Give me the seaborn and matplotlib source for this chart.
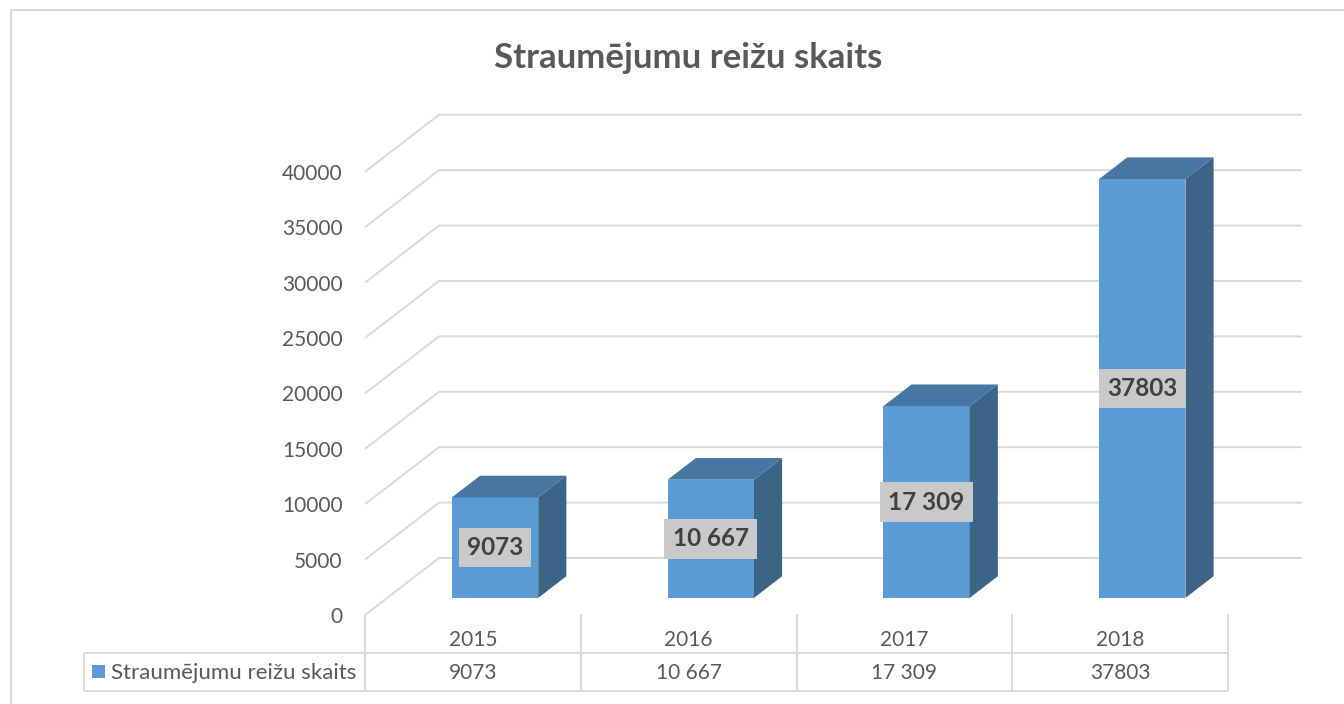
import matplotlib
matplotlib.use("Agg")
import matplotlib.pyplot as plt
import matplotlib.transforms as mtransforms
from matplotlib.lines import Line2D
from matplotlib.patches import Polygon, Rectangle
import pandas as pd
import seaborn as sns

# Data
years = ["2015", "2016", "2017", "2018"]
counts = [9073, 10667, 17309, 37803]
count_labels = ["9073", "10 667", "17 309", "37803"]
y_ticks = [0, 5000, 10000, 15000, 20000, 25000, 30000, 35000, 40000]
series_name = "Straumējumu reižu skaits"
chart_title = "Straumējumu reižu skaits"

# Style
sns.set_theme(style="white")
plt.rcParams["font.family"] = ["Lato", "DejaVu Sans"]

FRONT = "#5B9BD5"
TOP = "#4676A1"
SIDE = "#3B6487"
GRID = "#D9D9D9"
TEXT = "#595959"
LABEL_BG = "#C9C9C9"
LABEL_TXT = "#404040"

# Layout in image pixels (origin top-left)
W, H = 1344, 704
LEFT, FLOOR, PLOT_TOP = 365, 615, 100
CAT_W = 215.75
UNIT = 55.4 / 5000          # pixels per value unit
DEPTH = (74, 57)            # oblique depth of the floor/gridlines
BAR_F0, BAR_F1 = 0.30, 0.68  # bar front/back as fraction of depth
ROW1, ROW2, TABLE_BOTTOM = 640, 673, 691
ROW_SPLIT = 653

fig = plt.figure(figsize=(W / 100, H / 100), dpi=100)
pix = mtransforms.Affine2D().scale(1 / W, -1 / H).translate(0, 1) + fig.transFigure

ax = fig.add_axes([LEFT / W, (H - FLOOR) / H,
                   (4 * CAT_W + DEPTH[0]) / W, (FLOOR - PLOT_TOP) / H])
ax.set_facecolor("none")

ddx = DEPTH[0] / CAT_W
ddy = DEPTH[1] / UNIT

df = pd.DataFrame({"year": years, "count": counts})
sns.barplot(data=df, x="year", y="count", color=FRONT, saturation=1,
            width=0.4, linewidth=0, errorbar=None, ax=ax, zorder=3)

ax.set_xlim(-0.5, 3.5 + ddx)
ax.set_ylim(0, (FLOOR - PLOT_TOP) / UNIT)

# back gridlines with oblique floor edges
for v in y_ticks:
    ax.plot([-0.5, -0.5 + ddx, 3.5 + ddx], [v, v + ddy, v + ddy],
            color=GRID, lw=1.4, zorder=0, clip_on=False, solid_capstyle="butt")

# 3D faces on the seaborn bars
bx = (BAR_F1 - BAR_F0) * ddx
by = (BAR_F1 - BAR_F0) * ddy
for p, lab in zip(ax.patches, count_labels):
    p.set_x(p.get_x() + BAR_F0 * ddx)
    p.set_y(BAR_F0 * ddy)
    x0, y0, w, h = p.get_x(), p.get_y(), p.get_width(), p.get_height()
    ax.add_patch(Polygon([(x0, y0 + h), (x0 + w, y0 + h), (x0 + w + bx, y0 + h + by),
                          (x0 + bx, y0 + h + by)], closed=True, fc=TOP, lw=0, zorder=3))
    ax.add_patch(Polygon([(x0 + w, y0), (x0 + w + bx, y0 + by), (x0 + w + bx, y0 + h + by),
                          (x0 + w, y0 + h)], closed=True, fc=SIDE, lw=0, zorder=3))
    ax.text(x0 + w / 2, y0 + h / 2, lab, ha="center", va="center", fontsize=17.5,
            fontweight="bold", color=LABEL_TXT, zorder=5,
            bbox=dict(boxstyle="square,pad=0.34", fc=LABEL_BG, ec="none"))

# axes cosmetics
for s in ax.spines.values():
    s.set_visible(False)
ax.set_xlabel("")
ax.set_ylabel("")
ax.set_xticks([])
ax.set_yticks(y_ticks)
ax.set_yticklabels([str(t) for t in y_ticks])
ax.tick_params(axis="y", length=0, pad=16, labelsize=15, labelcolor=TEXT)
ax.grid(False)

# data table below the plot
for i in range(5):
    x = LEFT + i * CAT_W
    fig.add_artist(Line2D([x, x], [FLOOR, TABLE_BOTTOM], transform=pix, color=GRID, lw=1.4))
for y in (ROW_SPLIT, TABLE_BOTTOM):
    fig.add_artist(Line2D([84, LEFT + 4 * CAT_W], [y, y], transform=pix, color=GRID, lw=1.4))
fig.add_artist(Line2D([84, 84], [ROW_SPLIT, TABLE_BOTTOM], transform=pix, color=GRID, lw=1.4))

for i, (yr, lab) in enumerate(zip(years, count_labels)):
    cx = LEFT + (i + 0.5) * CAT_W
    fig.text(cx, ROW1, yr, transform=pix, ha="center", va="center", fontsize=15, color=TEXT)
    fig.text(cx, ROW2, lab, transform=pix, ha="center", va="center", fontsize=15, color=TEXT)

fig.add_artist(Rectangle((92, 665), 13, 13, transform=pix, fc=FRONT, ec="none"))
fig.text(111, ROW2, series_name, transform=pix, ha="left", va="center", fontsize=16, color=TEXT)

# outer chart border and title
fig.add_artist(Line2D([11, 11, W], [H, 10, 10], transform=pix, color=GRID, lw=1.4))
fig.text(688, 68, chart_title, transform=pix, ha="center", va="baseline",
         fontsize=25, fontweight="bold", color=TEXT)

fig.savefig("out.png", dpi=100)
